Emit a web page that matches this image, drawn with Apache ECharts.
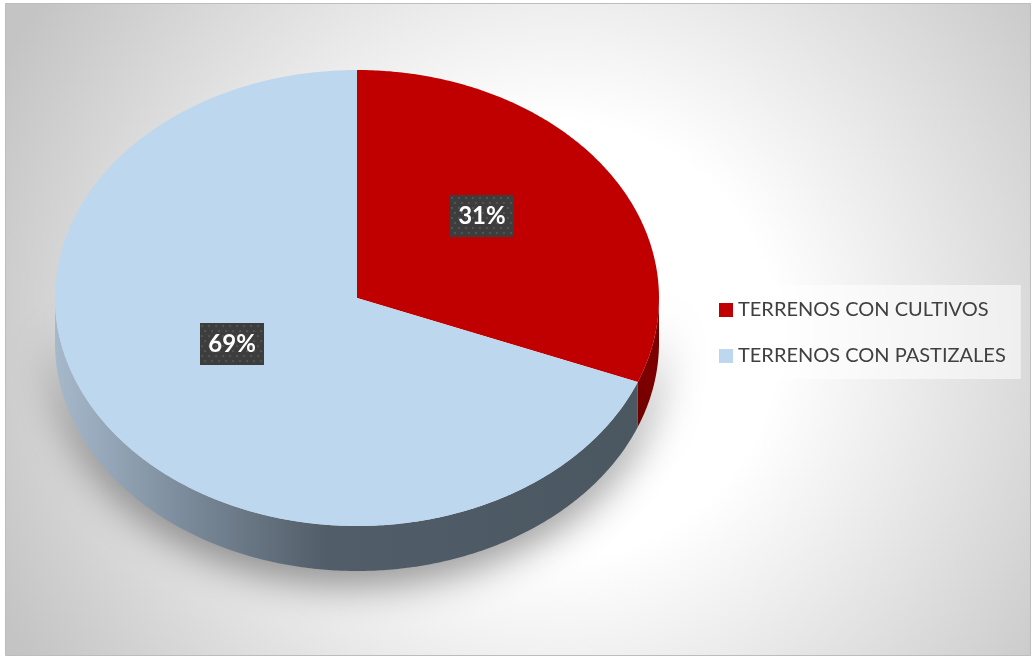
<!DOCTYPE html>
<html>
<head>
<meta charset="utf-8">
<title>Uso de terrenos</title>
<script src="https://cdn.jsdelivr.net/npm/echarts@6/dist/echarts.min.js"></script>
<style>
  html, body { margin: 0; padding: 0; background: #ffffff; }
  #chart { width: 1034px; height: 657px; }
</style>
</head>
<body>
<div id="chart"></div>
<script>
// Land use shares
const categories = ['TERRENOS CON CULTIVOS', 'TERRENOS CON PASTIZALES'];
const values = [31, 69];
const topColors = ['#c00000', '#bdd7ee'];

// Geometry of the tilted pie (top face ellipse and wall depth)
const CX = 357, CY = 298, RX = 302, RY = 228, DEPTH = 45;
const LABEL_R = 0.5, LABEL_DY = -18;

const total = values.reduce((a, b) => a + b, 0);

function ellipsePoint(t, dy) {
  return [CX + RX * Math.cos(t), CY + RY * Math.sin(t) + (dy || 0)];
}
function arc(a0, a1, dy) {
  const n = Math.max(2, Math.ceil(Math.abs(a1 - a0) / 0.01));
  const pts = [];
  for (let k = 0; k <= n; k++) pts.push(ellipsePoint(a0 + (a1 - a0) * k / n, dy));
  return pts;
}

// Dotted dark fill for the value boxes
const BOX_W = 64, BOX_H = 42;
const boxCanvas = document.createElement('canvas');
boxCanvas.width = BOX_W; boxCanvas.height = BOX_H;
(function () {
  const g = boxCanvas.getContext('2d');
  g.fillStyle = '#3d3d3d';
  g.fillRect(0, 0, BOX_W, BOX_H);
  g.fillStyle = '#545454';
  for (let y = 2, row = 0; y < BOX_H; y += 5, row++) {
    for (let x = (row % 2 ? 4 : 1); x < BOX_W; x += 7) g.fillRect(x, y, 2, 2);
  }
})();

const blueWall = {
  type: 'linear', x: CX - RX, y: 0, x2: CX + RX, y2: 0, global: true,
  colorStops: [
    { offset: 0, color: '#a6b9cb' },
    { offset: 0.2, color: '#7e8e9e' },
    { offset: 0.45, color: '#515d68' },
    { offset: 1, color: '#4a5660' }
  ]
};
const wallColors = ['#7d0000', blueWall];

function makeRender(i) {
  return function (params, api) {
    const v = api.value(0);
    const before = values.slice(0, i).reduce((a, b) => a + b, 0);
    const a0 = -Math.PI / 2 + 2 * Math.PI * before / total;
    const a1 = a0 + 2 * Math.PI * v / total;
    const children = [];

    // front wall: part of the slice between 0 and PI (lower half)
    const s = Math.max(a0, 0), e = Math.min(a1, Math.PI);
    if (e > s) {
      const upper = arc(s, e, 0);
      const lower = arc(e, s, DEPTH);
      children.push({
        type: 'polygon', z2: 1,
        shape: { points: upper.concat(lower) },
        style: {
          fill: wallColors[i],
          shadowBlur: 40, shadowColor: 'rgba(0,0,0,0.45)', shadowOffsetY: 12
        }
      });
    }

    // top face
    children.push({
      type: 'polygon', z2: 10,
      shape: { points: [[CX, CY]].concat(arc(a0, a1, 0)) },
      style: { fill: api.visual('color') }
    });

    // value label
    const mid = (a0 + a1) / 2;
    children.push({
      type: 'text', z2: 20,
      x: CX + RX * LABEL_R * Math.cos(mid),
      y: CY + RY * LABEL_R * Math.sin(mid) + LABEL_DY,
      style: {
        text: Math.round(v / total * 100) + '%',
        fill: '#ffffff',
        font: 'bold 24px Lato',
        align: 'center', verticalAlign: 'middle',
        lineHeight: 24,
        padding: [9, 8],
        width: BOX_W - 16,
        backgroundColor: { image: boxCanvas },
        shadowBlur: 6, shadowColor: 'rgba(0,0,0,0.55)',
        shadowOffsetX: 3, shadowOffsetY: 3
      }
    });
    return { type: 'group', children: children };
  };
}

const chart = echarts.init(document.getElementById('chart'), null, { renderer: 'canvas' });
chart.setOption({
  animation: false,
  graphic: [{
    type: 'rect', z: -100, silent: true,
    shape: { x: 5.5, y: 3.5, width: 1025, height: 652 },
    style: {
      fill: {
        type: 'radial', x: 560, y: 340, r: 620, global: true,
        colorStops: [
          { offset: 0, color: '#ffffff' },
          { offset: 0.35, color: '#ffffff' },
          { offset: 1, color: '#c4c4c4' }
        ]
      },
      stroke: '#bdbdbd', lineWidth: 1
    }
  }],
  legend: {
    orient: 'vertical',
    left: 706, top: 285,
    padding: [15, 15, 13, 13],
    itemGap: 26,
    itemWidth: 14, itemHeight: 14,
    icon: 'rect',
    selectedMode: false,
    backgroundColor: 'rgba(255,255,255,0.55)',
    textStyle: { fontFamily: 'Lato', fontSize: 20, color: '#404040' },
    data: categories
  },
  series: categories.map((name, i) => ({
    type: 'custom',
    name: name,
    coordinateSystem: 'none',
    itemStyle: { color: topColors[i] },
    data: [values[i]],
    renderItem: makeRender(i)
  }))
});
</script>
</body>
</html>
